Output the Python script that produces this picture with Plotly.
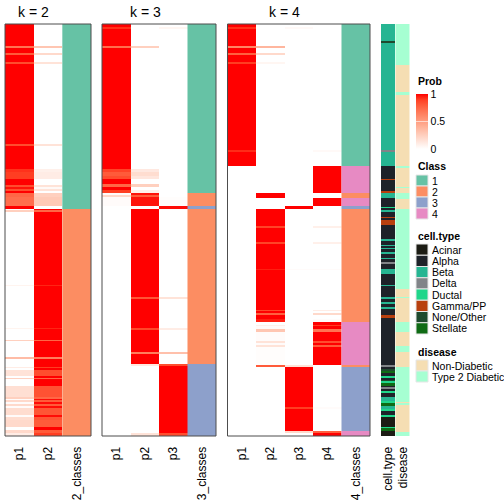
import plotly.graph_objects as go

W = H = 504
FONT = "Liberation Sans, Arial, Helvetica, sans-serif"

# ---------------- data ----------------
# runs of consecutive samples: (number of samples, p1) for k = 2 (p2 = 1 - p1)
k2_runs = [(22, 1.0), (2, 0.7), (5, 1), (2, 0.8), (7, 1), (2, 0.85), (80, 1), (2, 0.85), (23, 1), (3, 0.92),
           (7, 0.9), (6, 1), (2, 0.85), (2, 0.97), (2, 0.85), (2, 1), (4, 0.75), (9, 0.72), (3, 1), (1, 0.0),
           (2, 0.25), (73, 0.0), (1, 0.06), (42, 0.0), (1, 0.06), (11, 0.0), (1, 0.25), (16, 0.0), (2, 0.35), (8, 0.0),
           (1, 0.1), (2, 0.0), (6, 0.15), (2, 0.0), (1, 0.25), (7, 0.0), (11, 0.17), (2, 0.25), (1, 0.02), (2, 0.2),
           (2, 0.02), (2, 0.2), (2, 0.02), (7, 0.18), (2, 0.02), (3, 0.18), (7, 0.2), (3, 0.0), (3, 0.2), (3, 0.1)]

# (number of samples, p1, p2, p3) for k = 3
k3_runs = [(3, 1, 0, 0), (2, 0.92, 0, 0.05), (17, 1, 0, 0), (2, 0.72, 0.25, 0), (121, 1, 0, 0),
           (3, 0.88, 0.12, 0), (4, 0.8, 0.18, 0), (3, 0.85, 0.13, 0), (5, 1, 0, 0), (3, 0.75, 0.25, 0),
           (3, 1, 0, 0), (3, 0.9, 0.08, 0), (2, 0.02, 0.97, 0), (2, 0.2, 0.8, 0), (9, 0.02, 0.97, 0.01),
           (3, 0, 0.02, 0.98), (88, 0, 1, 0), (2, 0, 0.82, 0.15), (29, 0, 1, 0), (2, 0, 0.87, 0.1),
           (22, 0, 1, 0), (2, 0, 0.65, 0.33), (10, 0, 1, 0), (2, 0, 0.12, 0.85), (67, 0, 0, 1), (3, 0, 0.15, 0.85)]

# (number of samples, p1, p2, p3, p4) for k = 4
k4_runs = [(3, 1, 0, 0, 0), (2, 0.92, 0, 0.03, 0), (17, 1, 0, 0, 0), (2, 0.62, 0.38, 0, 0), (5, 1, 0, 0, 0),
           (2, 0.78, 0.2, 0, 0), (7, 1, 0, 0, 0), (2, 0.9, 0.05, 0, 0), (86, 1, 0, 0, 0), (2, 0.93, 0, 0, 0.03),
           (14, 1, 0, 0, 0), (27, 0, 0, 0, 1), (5, 0, 1, 0, 0), (8, 0, 0, 0, 1), (3, 0, 0, 1, 0),
           (17, 0, 1, 0, 0), (2, 0, 0.88, 0, 0.08), (14, 0, 1, 0, 0), (2, 0, 0.88, 0, 0.08), (25, 0, 1, 0, 0),
           (1, 0, 0.95, 0.02, 0.02), (40, 0, 1, 0, 0), (1, 0, 0.87, 0, 0.1), (2, 0, 1, 0, 0), (2, 0, 0.78, 0, 0.2),
           (4, 0, 1, 0, 0), (3, 0, 0.95, 0, 0.02), (3, 0, 0, 0, 1), (1, 0, 0.08, 0, 0.9), (3, 0, 0.02, 0, 1),
           (3, 0, 0.3, 0, 0.7), (9, 0, 0.02, 0, 1), (2, 0, 0.15, 0, 0.85), (2, 0, 0.02, 0, 1), (2, 0, 0.15, 0, 0.8),
           (18, 0, 0.01, 0, 1), (2, 0, 0.8, 0.15, 0), (40, 0, 0, 1, 0), (2, 0, 0, 0.9, 0.02), (22, 0, 0, 1, 0),
           (2, 0, 0, 0.2, 0.78), (3, 0, 0, 0, 1)]

cell_types = ["Acinar", "Alpha", "Beta", "Delta", "Ductal", "Gamma/PP", "None/Other", "Stellate"]
celltype_runs = [(17, "Beta"), (2, "None/Other"), (107, "Beta"), (2, "Delta"), (14, "Beta"), (13, "Alpha"),
                 (1, "Gamma/PP"), (11, "Alpha"), (2, "Gamma/PP"), (5, "Beta"), (9, "Alpha"), (1, "Ductal"),
                 (2, "Alpha"), (2, "Beta"), (5, "Alpha"), (1, "Gamma/PP"), (2, "Alpha"), (5, "Gamma/PP"),
                 (14, "Alpha"), (2, "Beta"), (4, "Alpha"), (1, "Beta"), (2, "Alpha"), (1, "Beta"), (3, "Alpha"),
                 (2, "Beta"), (4, "Alpha"), (1, "Beta"), (3, "Alpha"), (2, "Delta"), (5, "Alpha"), (5, "Beta"),
                 (11, "Alpha"), (1, "Beta"), (11, "Alpha"), (2, "Beta"), (3, "Alpha"), (2, "Beta"), (3, "Alpha"),
                 (2, "Beta"), (6, "Alpha"), (3, "Gamma/PP"), (47, "Alpha"), (2, "Delta"), (2, "Alpha"),
                 (2, "None/Other"), (2, "Stellate"), (3, "Alpha"), (2, "Ductal"), (2, "Alpha"), (1, "None/Other"),
                 (2, "Ductal"), (3, "Stellate"), (1, "Alpha"), (2, "Delta"), (2, "Alpha"), (2, "Ductal"),
                 (4, "Alpha"), (4, "Beta"), (2, "Ductal"), (3, "Stellate"), (3, "Beta"), (2, "Ductal"),
                 (4, "Alpha"), (2, "Ductal"), (10, "Acinar"), (1, "Ductal"), (3, "Stellate"), (5, "Acinar")]

diseases = ["Non-Diabetic", "Type 2 Diabetic"]
disease_runs = [(41, "Type 2 Diabetic"), (27, "Non-Diabetic"), (3, "Type 2 Diabetic"), (71, "Non-Diabetic"),
                (2, "Type 2 Diabetic"), (19, "Non-Diabetic"), (1, "Type 2 Diabetic"), (5, "Non-Diabetic"),
                (6, "Type 2 Diabetic"), (10, "Non-Diabetic"), (80, "Type 2 Diabetic"), (8, "Non-Diabetic"),
                (1, "Type 2 Diabetic"), (24, "Non-Diabetic"), (10, "Type 2 Diabetic"), (14, "Non-Diabetic"),
                (6, "Type 2 Diabetic"), (15, "Non-Diabetic"), (35, "Type 2 Diabetic"), (1, "Non-Diabetic"),
                (2, "Type 2 Diabetic"), (27, "Non-Diabetic"), (4, "Type 2 Diabetic")]

class_labels = ["1", "2", "3", "4"]

# ---------------- styles ----------------
class_colors = ["#66C2A5", "#FC8D62", "#8DA0CB", "#E78AC3"]
cell_colors = ["#1C1C14", "#1E2229", "#26B592", "#818488", "#1FD68A", "#B8400F", "#1F4A2E", "#0F6B14"]
disease_colors = ["#F5DEB3", "#A6FFD2"]


def expand(runs):
    out = []
    for r in runs:
        out.extend([r[1:]] * r[0])
    return out


k2_rows = [[v[0], 1 - v[0]] for v in expand(k2_runs)]
k3_rows = [list(v) for v in expand(k3_runs)]
k4_rows = [list(v) for v in expand(k4_runs)]
N = len(k2_rows)


def argmax_class(rows):
    return [[max(range(len(r)), key=lambda i: r[i]) + 1] for r in rows]


ct_codes = [[cell_types.index(v[0]) + 1] for v in expand(celltype_runs)]
ds_codes = [[diseases.index(v[0]) + 1] for v in expand(disease_runs)]


def lab_to_hex(L, a, b):
    fy = (L + 16) / 116
    fx = fy + a / 500
    fz = fy - b / 200

    def finv(t):
        return t ** 3 if t ** 3 > 0.008856 else (t - 16 / 116) / 7.787
    X, Y, Z = 0.95047 * finv(fx), finv(fy), 1.08883 * finv(fz)
    rl = 3.2406 * X - 1.5372 * Y - 0.4986 * Z
    gl = -0.9689 * X + 1.8758 * Y + 0.0415 * Z
    bl = 0.0557 * X - 0.2040 * Y + 1.0570 * Z

    def g(c):
        c = 12.92 * c if c <= 0.0031308 else 1.055 * c ** (1 / 2.4) - 0.055
        return int(round(min(max(c, 0), 1) * 255))
    return "#%02x%02x%02x" % (g(rl), g(gl), g(bl))


white_lab = (100.0, 0.0, 0.0)
red_lab = (53.24, 80.09, 67.20)
prob_scale = []
for i in range(11):
    t = i / 10
    prob_scale.append([t, lab_to_hex(*[w + (r - w) * t for w, r in zip(white_lab, red_lab)])])


def discrete_scale(colors):
    n = len(colors)
    sc = []
    for i, c in enumerate(colors):
        sc += [[i / n, c], [(i + 1) / n, c]]
    return sc


fig = go.Figure()


def add_panel(xa, rows, showscale=False):
    ncol = len(rows[0])
    tr = go.Heatmap(z=rows, x0=0, dx=1, y0=0, dy=1, colorscale=prob_scale, zmin=0, zmax=1,
                    xaxis=xa, yaxis="y", hoverinfo="skip", showscale=showscale)
    if showscale:
        tr.colorbar = dict(x=416 / W, xanchor="left", xpad=0, y=1 - 121.5 / H, yanchor="middle", ypad=0,
                           len=55, lenmode="pixels", thickness=12, thicknessmode="pixels", outlinewidth=0,
                           tickvals=[0, 0.5, 1], ticktext=["0", "0.5", "1"], ticks="inside", ticklen=12,
                           tickcolor="rgba(255,255,255,0.6)", tickwidth=1,
                           tickfont=dict(size=10.5, family=FONT, color="black"))
    fig.add_trace(tr)
    fig.add_trace(go.Heatmap(z=argmax_class(rows), x0=ncol, dx=1, y0=0, dy=1,
                             colorscale=discrete_scale(class_colors), zmin=0.5, zmax=4.5,
                             xaxis=xa, yaxis="y", hoverinfo="skip", showscale=False))


add_panel("x", k2_rows, showscale=True)
add_panel("x2", k3_rows)
add_panel("x3", k4_rows)
fig.add_trace(go.Heatmap(z=ct_codes, x0=0, dx=1, y0=0, dy=1, colorscale=discrete_scale(cell_colors),
                         zmin=0.5, zmax=len(cell_types) + 0.5, xgap=1, xaxis="x4", yaxis="y",
                         hoverinfo="skip", showscale=False))
fig.add_trace(go.Heatmap(z=ds_codes, x0=1, dx=1, y0=0, dy=1, colorscale=discrete_scale(disease_colors),
                         zmin=0.5, zmax=len(diseases) + 0.5, xgap=1, xaxis="x4", yaxis="y",
                         hoverinfo="skip", showscale=False))

top, bottom = 24, 436
xdomains = {"xaxis": (5, 91, ["p1", "p2", "2_classes"]),
            "xaxis2": (102, 216, ["p1", "p2", "p3", "3_classes"]),
            "xaxis3": (227.5, 370, ["p1", "p2", "p3", "p4", "4_classes"]),
            "xaxis4": (381, 410, ["cell.type", "disease"])}
axes = {}
for name, (a, b, cats) in xdomains.items():
    axes[name] = dict(domain=[a / W, b / W], anchor="y", range=[-0.5, len(cats) - 0.5],
                      tickmode="array", tickvals=list(range(len(cats))), ticktext=cats, tickangle=-90,
                      tickfont=dict(size=12, family=FONT, color="black"), showgrid=False, zeroline=False,
                      showline=False, ticks="outside", ticklen=5, tickcolor="rgba(0,0,0,0)", fixedrange=True)

fig.update_layout(**axes)
fig.update_layout(yaxis=dict(domain=[1 - bottom / H, 1 - top / H], range=[N - 0.5, -0.5], visible=False,
                             anchor="x", fixedrange=True))

shapes = []
for ref in ["x", "x2", "x3"]:
    shapes.append(dict(type="rect", xref=ref + " domain", yref="y domain", x0=0, x1=1, y0=0, y1=1,
                       line=dict(color="#4d4d4d", width=1), fillcolor="rgba(0,0,0,0)"))

annotations = []
for txt, cx in [("k = 2", 33.5), ("k = 3", 145), ("k = 4", 284)]:
    annotations.append(dict(text=txt, x=cx / W, y=1 - 11.5 / H, xref="paper", yref="paper",
                            xanchor="center", yanchor="middle", showarrow=False,
                            font=dict(size=14, family=FONT, color="black")))


def legend_title(txt, py):
    annotations.append(dict(text="<b>%s</b>" % txt, x=415.5 / W, y=1 - py / H, xref="paper", yref="paper",
                            xanchor="left", yanchor="middle", showarrow=False,
                            font=dict(size=10.5, family=FONT, color="black")))


def legend_keys(labels, colors, start, step):
    for i, (lab, col) in enumerate(zip(labels, colors)):
        y0 = start + i * step
        shapes.append(dict(type="rect", xref="paper", yref="paper", x0=416 / W, x1=428 / W,
                           y0=1 - y0 / H, y1=1 - (y0 + step) / H, fillcolor=col,
                           line=dict(color="#E6E6E6", width=1)))
        annotations.append(dict(text=lab, x=430 / W, y=1 - (y0 + step / 2) / H, xref="paper", yref="paper",
                                xanchor="left", yanchor="middle", showarrow=False,
                                font=dict(size=10.5, family=FONT, color="black")))


legend_title("Prob", 81)
legend_title("Class", 166)
legend_keys(class_labels, class_colors, 175, 11)
legend_title("cell.type", 236)
legend_keys(cell_types, cell_colors, 244, 11.25)
legend_title("disease", 352)
legend_keys(diseases, disease_colors, 360, 11)

fig.update_layout(width=W, height=H, autosize=False, margin=dict(l=0, r=0, t=0, b=0),
                  paper_bgcolor="white", plot_bgcolor="white", showlegend=False,
                  shapes=shapes, annotations=annotations, font=dict(family=FONT))

fig.write_html("out.html", config={"displayModeBar": False, "staticPlot": True},
               post_script="document.body.style.margin='0px';document.body.style.padding='0px';")
